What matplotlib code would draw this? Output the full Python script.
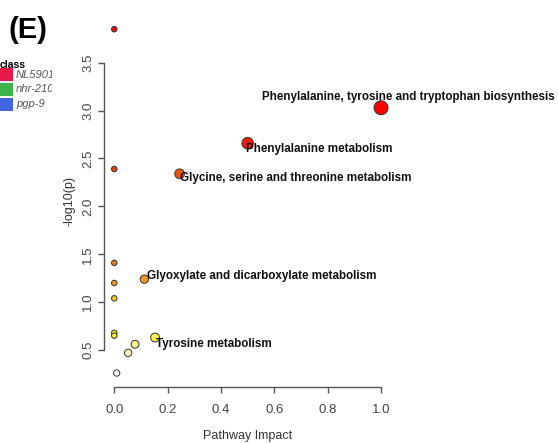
import numpy as np
import matplotlib
matplotlib.use("Agg")
import matplotlib.pyplot as plt
from matplotlib.colors import LinearSegmentedColormap, Normalize
from matplotlib.patches import Rectangle
from matplotlib.transforms import Bbox
from matplotlib import font_manager

# pathway impact vs -log10(p)
impact = [0.0, 1.0, 0.5, 0.0, 0.245, 0.0, 0.113, 0.0, 0.0, 0.0, 0.0, 0.153, 0.078, 0.052, 0.009]
logp = [3.85, 3.03, 2.66, 2.39, 2.34, 1.41, 1.24, 1.20, 1.04, 0.68, 0.65, 0.63, 0.56, 0.47, 0.26]

# labelled pathways (index into the arrays above)
label_idx = [1, 2, 4, 6, 11]
label_txt = ["Phenylalanine, tyrosine and tryptophan biosynthesis",
             "Phenylalanine metabolism",
             "Glycine, serine and threonine metabolism",
             "Glyoxylate and dicarboxylate metabolism",
             "Tyrosine metabolism"]
# label offsets in pixels (dx, dy), dy positive = down
label_off = [(-119, -11), (-2, 6), (0, 4), (3, -3), (1, 6)]

classes = ["NL5901", "nhr-210", "pgp-9"]
class_cols = ["#E8174A", "#3CB44B", "#4166E0"]

names = {f.name for f in font_manager.fontManager.ttflist}
narrow = "Liberation Sans Narrow" in names
lab_font = "Liberation Sans Narrow" if narrow else "Liberation Sans"

plt.rcParams['font.family'] = [lab_font, 'DejaVu Sans']

fig = plt.figure(figsize=(5.58, 4.43), dpi=100)
W, H = 558, 443
ax = fig.add_axes([103.6 / W, 1 - 386.8 / H, (391.7 - 103.6) / W, (386.8 - 15.4) / H])

heat = LinearSegmentedColormap.from_list("heat", [
    (0.0, "#FFFFFF"), (0.07, "#FBF6B0"), (0.11, "#F8F030"), (0.2, "#F0E020"),
    (0.24, "#F2A830"), (0.3, "#F08020"), (0.34, "#EE6A15"), (0.58, "#EE5512"),
    (0.6, "#E83010"), (0.77, "#FF0000"), (1.0, "#E0101A")])
norm = Normalize(vmin=0.26, vmax=3.85)

imp = np.array(impact)
diam_px = 5.5 + 8.5 * np.sqrt(imp)
sizes = (diam_px * 0.72) ** 2
ax.scatter(impact, logp, s=sizes, c=logp, cmap=heat, norm=norm,
           edgecolors="#333333", linewidths=0.7, zorder=3, clip_on=False)

for i, t, (dx, dy) in zip(label_idx, label_txt, label_off):
    ax.annotate(t, (impact[i], logp[i]), xytext=(dx * 0.72, -dy * 0.72),
                textcoords="offset points", ha="left", va="center",
                fontsize=10 if narrow else 8.4, fontweight="bold",
                color="#111111", annotation_clip=False, zorder=4)

ax.set_xlim(-0.04, 1.04)
ax.set_ylim(0.116, 3.994)
ax.set_xticks([0, 0.2, 0.4, 0.6, 0.8, 1.0])
ax.set_xticklabels(["0.0", "0.2", "0.4", "0.6", "0.8", "1.0"])
ax.set_yticks([0.5, 1.0, 1.5, 2.0, 2.5, 3.0, 3.5])
ax.set_yticklabels(["0.5", "1.0", "1.5", "2.0", "2.5", "3.0", "3.5"], rotation=90, va="center")
for s in ["top", "right"]:
    ax.spines[s].set_visible(False)
ax.spines["bottom"].set_bounds(0, 1.0)
ax.spines["left"].set_bounds(0.5, 3.5)
for s in ["bottom", "left"]:
    ax.spines[s].set_color("#555555")
    ax.spines[s].set_linewidth(1.0)
ax.tick_params(direction="out", length=4.3, width=1.0, color="#555555",
               labelcolor="#444444", labelsize=9.5)
ax.tick_params(axis="x", pad=8)
ax.tick_params(axis="y", pad=2.5)
ax.set_xlabel("Pathway Impact", fontsize=9, color="#333333", labelpad=10)
ax.set_ylabel("-log10(p)", fontsize=9, color="#333333", labelpad=5)

# panel letter
fig.text(8 / W, 1 - 30 / H, "(E)", fontsize=21, fontweight="bold",
         family="Liberation Sans", va="center", ha="left")

# clipped legend at the left edge
fig.text(0, 1 - 65 / H, "class", fontsize=7.5, fontweight="bold", va="center", ha="left")
clip = Bbox.from_extents(0, 0, 52, H)
for k, (name, col) in enumerate(zip(classes, class_cols)):
    y0 = 68 + k * 15
    fig.patches.append(Rectangle((0, 1 - (y0 + 13) / H), 13 / W, 13 / H,
                                 transform=fig.transFigure, facecolor=col,
                                 edgecolor="none"))
    t = fig.text(16 / W, 1 - (y0 + 6.5) / H, name, fontsize=8, style="italic",
                 color="#555555", va="center", ha="left")
    t.set_clip_box(clip)
    t.set_clip_on(True)

fig.savefig("out.png", dpi=100)
